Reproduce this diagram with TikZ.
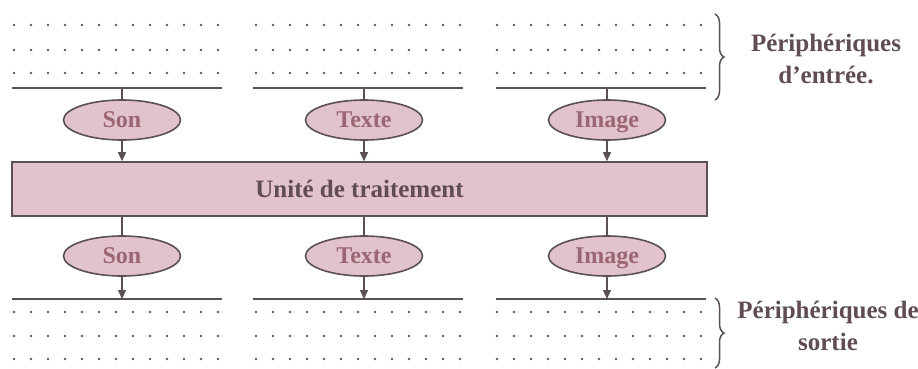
\documentclass[tikz,border=0pt]{standalone}
\usepackage{fontspec}
\setmainfont{Liberation Serif}
\usetikzlibrary{shapes.geometric,arrows.meta,decorations.pathreplacing}
\definecolor{pinkfill}{HTML}{E2C3CB}
\definecolor{stroke}{HTML}{5A5055}
\definecolor{mauvetext}{HTML}{9A6673}
\definecolor{boxtext}{HTML}{5F4D53}
\definecolor{dotcol}{HTML}{5E565A}
\begin{document}
\begin{tikzpicture}[x=1pt,y=-1pt,
  oval/.style={ellipse,draw=stroke,line width=1.6pt,fill=pinkfill,minimum width=117pt,minimum height=40pt,inner sep=0pt,text=mauvetext,font=\fontsize{24}{28}\selectfont\bfseries,text height=15pt,text depth=1pt},
  unitbox/.style={rectangle,draw=stroke,line width=1.6pt,fill=pinkfill,minimum width=695pt,minimum height=54pt,inner sep=0pt,text=boxtext,font=\fontsize{25}{28}\selectfont\bfseries},
  baseline/.style={draw=stroke,line width=1.8pt},
  conn/.style={draw=stroke,line width=1.4pt},
  arr/.style={conn,-{Triangle[width=8pt,length=9pt]}},
  sidelabel/.style={align=center,text=boxtext,font=\fontsize{25}{32}\selectfont\bfseries},
  curly/.style={draw=stroke,line width=1.5pt,decorate,decoration={brace,amplitude=9pt}},
  pt/.style={fill=dotcol}
]
\useasboundingbox (0,0) rectangle (918,368);

% dotted rows
\foreach \gx in {14,256,497}{
  \foreach \ry in {25,50,73,312,336,359}{
    \foreach \k in {0,...,12}{
      \fill[pt] (\gx+\k*17,\ry) circle (1.4pt);
    }
  }
}

% top lines
\coordinate (t1l) at (12,88); \coordinate (t1r) at (222,88);
\coordinate (t2l) at (253,88); \coordinate (t2r) at (463,88);
\coordinate (t3l) at (496,88); \coordinate (t3r) at (706,88);
\draw[baseline] (t1l) -- (t1r);
\draw[baseline] (t2l) -- (t2r);
\draw[baseline] (t3l) -- (t3r);
\coordinate (t1) at (122,88); \coordinate (t2) at (364,88); \coordinate (t3) at (607,88);

% bottom lines
\coordinate (b1l) at (12,299); \coordinate (b1r) at (222,299);
\coordinate (b2l) at (253,299); \coordinate (b2r) at (463,299);
\coordinate (b3l) at (496,299); \coordinate (b3r) at (706,299);
\draw[baseline] (b1l) -- (b1r);
\draw[baseline] (b2l) -- (b2r);
\draw[baseline] (b3l) -- (b3r);
\coordinate (b1) at (122,299); \coordinate (b2) at (364,299); \coordinate (b3) at (607,299);

% central box
\node[unitbox] (unit) at (359.5,189) {Unité de traitement};

% input ovals
\node[oval] (in1) at (122,120) {Son};
\node[oval] (in2) at (364,120) {Texte};
\node[oval] (in3) at (607,120) {Image};

% output ovals
\node[oval] (out1) at (122,256) {Son};
\node[oval] (out2) at (364,256) {Texte};
\node[oval] (out3) at (607,256) {Image};

% connectors
\foreach \i in {1,2,3}{
  \draw[conn] (t\i) -- (in\i.north);
  \draw[arr] (in\i.south) -- (in\i.south |- unit.north);
  \draw[conn] (out\i.north |- unit.south) -- (out\i.north);
  \draw[arr] (out\i.south) -- (b\i);
}

% braces
\coordinate (br1a) at (715,14); \coordinate (br1b) at (715,100);
\coordinate (br2a) at (715,298); \coordinate (br2b) at (715,368);
\draw[curly] (br1a) -- (br1b);
\draw[curly] (br2a) -- (br2b);

\node[sidelabel] (lin) at (826,59) {Périphériques\\d’entrée.};
\node[sidelabel] (lout) at (828,326) {Périphériques de\\sortie};
\end{tikzpicture}
\end{document}
